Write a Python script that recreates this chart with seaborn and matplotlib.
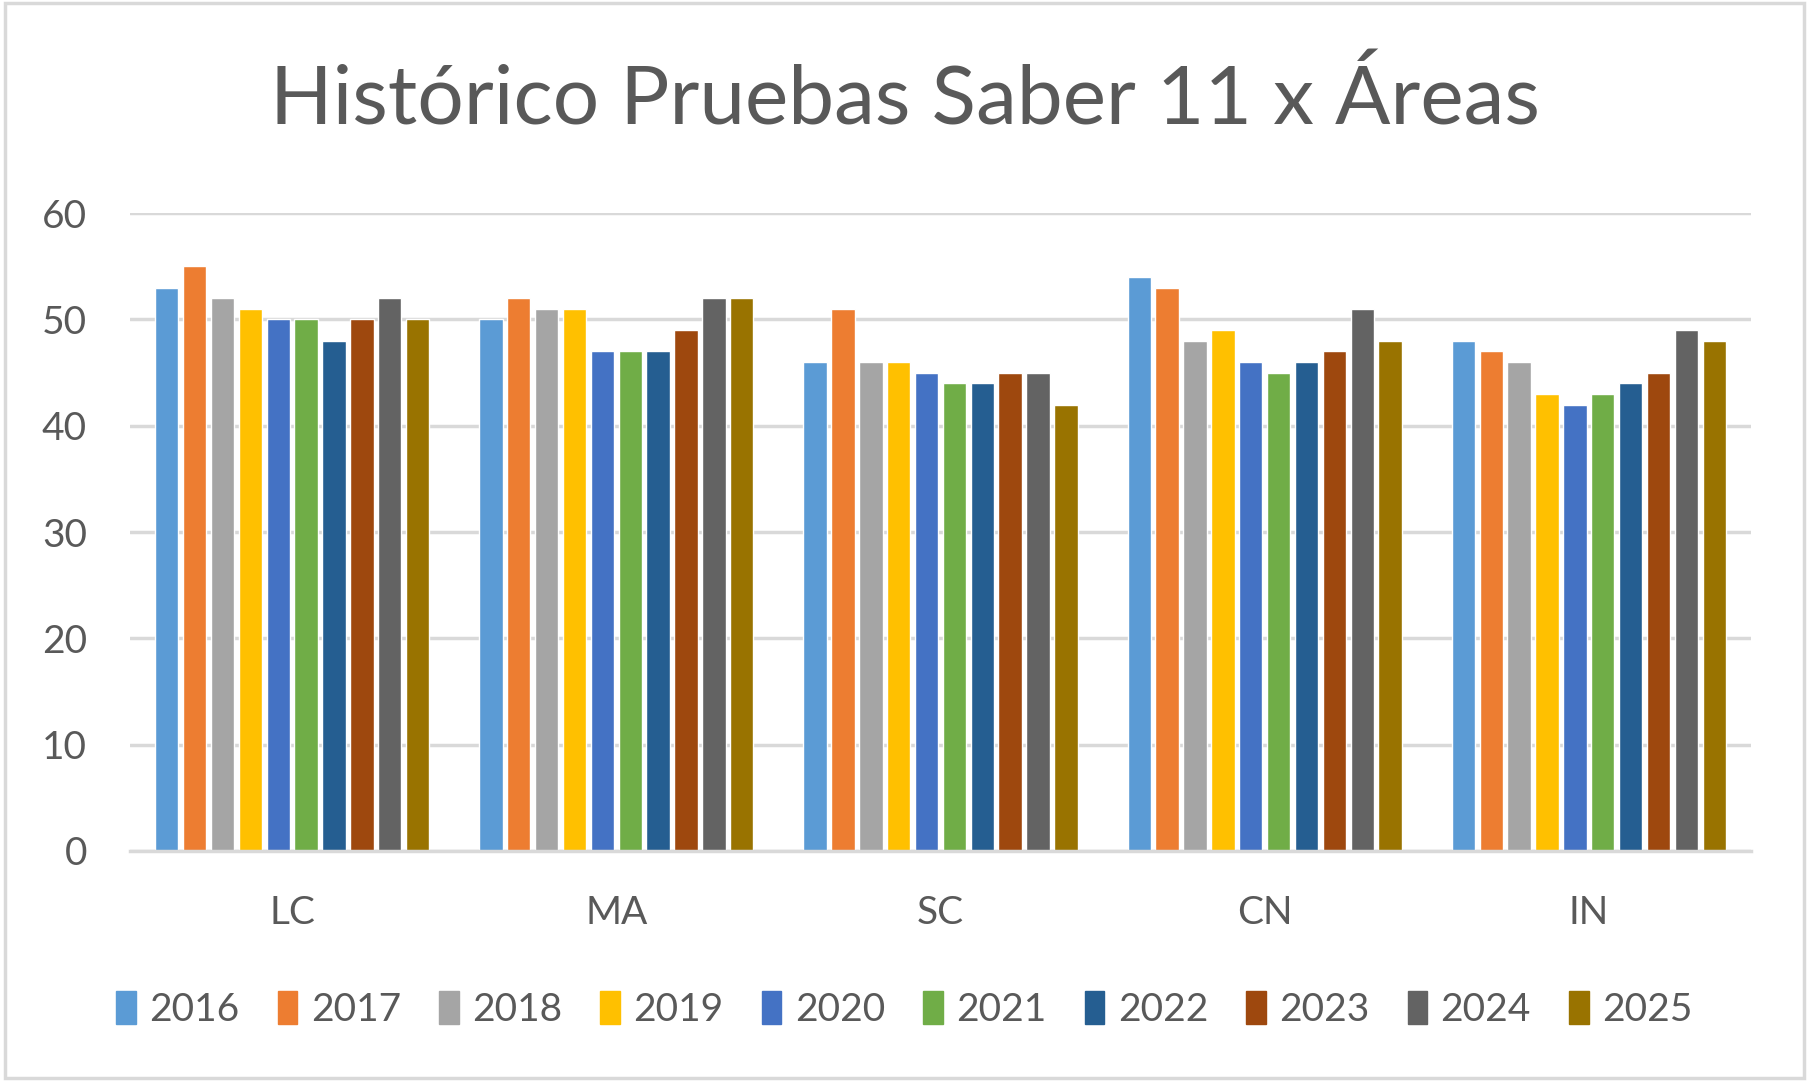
import numpy as np
import pandas as pd
import matplotlib
matplotlib.use("Agg")
import matplotlib.pyplot as plt
import seaborn as sns

areas = ["LC", "MA", "SC", "CN", "IN"]
years = ["2016", "2017", "2018", "2019", "2020", "2021", "2022", "2023", "2024", "2025"]

y2016 = [53, 50, 46, 54, 48]
y2017 = [55, 52, 51, 53, 47]
y2018 = [52, 51, 46, 48, 46]
y2019 = [51, 51, 46, 49, 43]
y2020 = [50, 47, 45, 46, 42]
y2021 = [50, 47, 44, 45, 43]
y2022 = [48, 47, 44, 46, 44]
y2023 = [50, 49, 45, 47, 45]
y2024 = [52, 52, 45, 51, 49]
y2025 = [50, 52, 42, 48, 48]

series = [y2016, y2017, y2018, y2019, y2020, y2021, y2022, y2023, y2024, y2025]

colors = ["#5B9BD5", "#ED7D31", "#A5A5A5", "#FFC000", "#4472C4",
          "#70AD47", "#255E91", "#9E480E", "#636363", "#997300"]

rows = []
for yr, vals in zip(years, series):
    for a, v in zip(areas, vals):
        rows.append({"Area": a, "Year": yr, "Score": v})
df = pd.DataFrame(rows)

sns.set_theme(style="white")
plt.rcParams['font.family'] = ['Lato', 'DejaVu Sans']
text_col = "#595959"

fig = plt.figure(figsize=(18.09, 10.81), dpi=100)
ax = fig.add_axes([0.0719, 0.2128, 0.896, 0.590])

sns.barplot(data=df, x="Area", y="Score", hue="Year", order=areas, hue_order=years,
            palette=colors, width=0.86, gap=0.16, ax=ax, legend=False,
            edgecolor="white", linewidth=1, saturation=1, errorbar=None)

ax.set_ylim(0, 60)
ax.set_yticks(np.arange(0, 61, 10))
ax.yaxis.grid(True, color="#D9D9D9", linewidth=2.5)
ax.set_axisbelow(True)
for s in ["top", "right", "left"]:
    ax.spines[s].set_visible(False)
ax.spines["bottom"].set_color("#D9D9D9")
ax.spines["bottom"].set_linewidth(2.5)
ax.tick_params(axis="y", length=0, labelsize=28, labelcolor=text_col, pad=31)
ax.tick_params(axis="x", length=0, labelsize=28, labelcolor=text_col, pad=32)
ax.set_xlabel("")
ax.set_ylabel("")

fig.text(0.5, 0.907, "Histórico Pruebas Saber 11 x Áreas", ha="center", va="center",
         fontsize=59, color=text_col)

handles = [plt.Rectangle((0, 0), 1, 1, color=c) for c in colors]
fig.legend(handles, years, loc="center", bbox_to_anchor=(0.5, 0.066), ncol=10,
           frameon=False, fontsize=28, labelcolor=text_col, handlelength=0.5,
           handleheight=0.9, handletextpad=0.35, columnspacing=0.98)

fig.patches.append(plt.Rectangle((0.003, 0.003), 0.994, 0.994, transform=fig.transFigure,
                                 fill=False, edgecolor="#D9D9D9", linewidth=2.5))

fig.savefig("out.png", dpi=100, facecolor="white")
